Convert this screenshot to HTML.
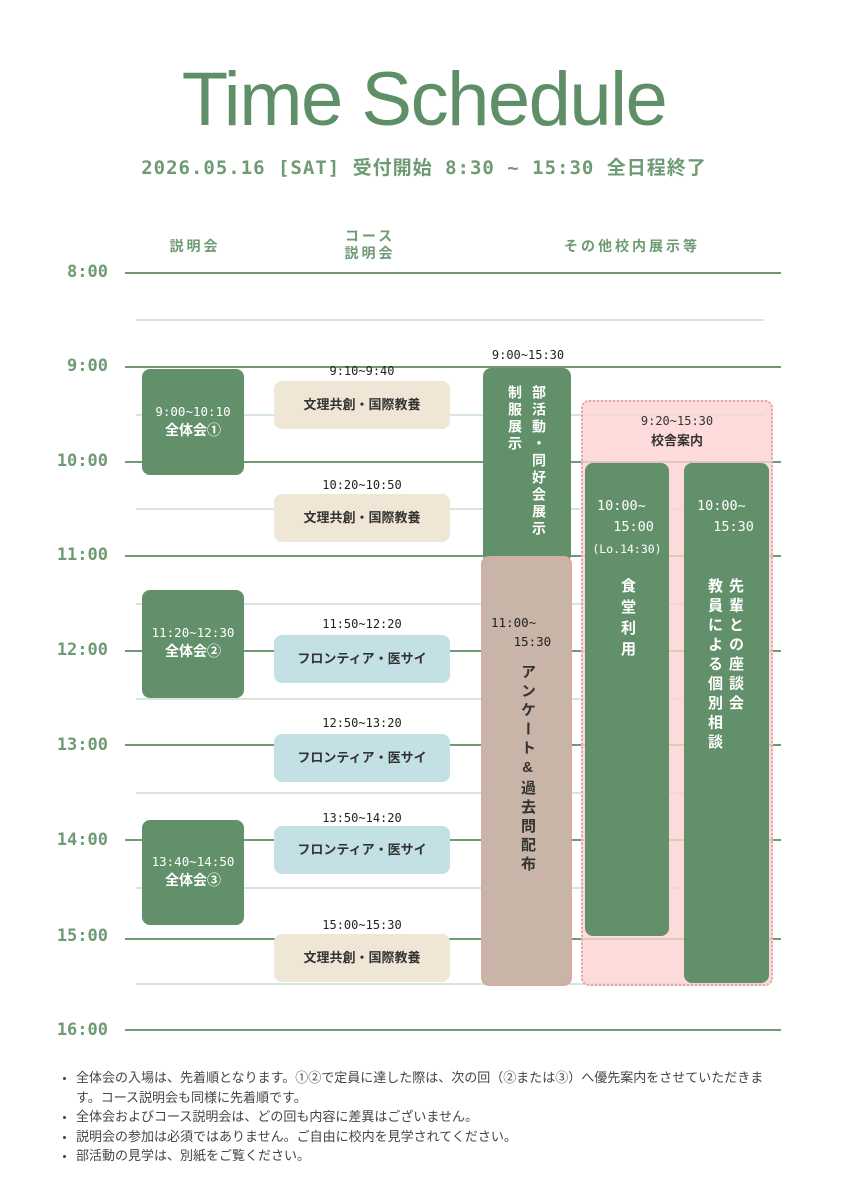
<!DOCTYPE html>
<html><head><meta charset="utf-8">
<style>
*{margin:0;padding:0;box-sizing:border-box}
body{width:848px;height:1200px;background:#fff;position:relative;overflow:hidden;font-family:"Liberation Sans","Noto Sans CJK JP",sans-serif}
.a{position:absolute}
.mono{font-family:"DejaVu Sans Mono","Liberation Mono","Noto Sans CJK JP",monospace}
.hl{position:absolute;left:125px;width:656px;height:2px;background:#6e9a74}
.ll{position:absolute;left:136px;width:628px;height:2px;background:#d6e6dc}
.tl{position:absolute;width:100px;text-align:right;left:8px;color:#6e9a74;font-weight:bold;font-size:17px;font-family:"DejaVu Sans Mono","Liberation Mono",monospace}
.gb{position:absolute;background:#62906a;border-radius:8px;color:#fff;text-align:center}
.cb{position:absolute;left:274px;width:176px;height:48px;border-radius:8px;font-size:13px;font-weight:bold;color:#333;text-align:center;line-height:48px}
.ct{position:absolute;left:274px;width:176px;text-align:center;font-size:12px;color:#222;font-family:"DejaVu Sans Mono","Liberation Mono",monospace}
.v{writing-mode:vertical-rl;text-orientation:upright;position:absolute;font-weight:bold;letter-spacing:4px}
.hd{position:absolute;color:#6e9a74;font-weight:bold;font-size:14px;letter-spacing:3px;text-align:center}
ul{position:absolute;left:62px;top:1068px;width:706px;font-size:13px;color:#444;line-height:19.5px;list-style:none}
li{position:relative;padding-left:14px}
li:before{content:"";position:absolute;left:1px;top:9px;width:3px;height:3px;background:#444;border-radius:50%}
</style></head><body>
<div class="a" style="left:0;width:848px;top:56px;text-align:center;font-size:76px;color:#5e8f66;letter-spacing:-1.5px;font-family:'Liberation Sans',sans-serif">Time Schedule</div>
<div class="a mono" style="left:0;width:848px;top:153px;text-align:center;font-size:19px;font-weight:bold;color:#6e9a74;letter-spacing:1px">2026.05.16 [SAT] 受付開始 8:30 ~ 15:30 全日程終了</div>
<div class="hd" style="left:145px;width:100px;top:236px">説明会</div>
<div class="hd" style="left:320px;width:100px;top:228px;line-height:17px">コース<br>説明会</div>
<div class="hd" style="left:532px;width:200px;top:236px">その他校内展示等</div>

<div class="ll" style="top:319px"></div><div class="ll" style="top:414px"></div><div class="ll" style="top:508px"></div><div class="ll" style="top:603px"></div><div class="ll" style="top:698px"></div><div class="ll" style="top:792px"></div><div class="ll" style="top:887px"></div><div class="ll" style="top:983px"></div>
<div class="hl" style="top:272px"></div><div class="hl" style="top:366px"></div><div class="hl" style="top:461px"></div><div class="hl" style="top:555px"></div><div class="hl" style="top:650px"></div><div class="hl" style="top:744px"></div><div class="hl" style="top:839px"></div><div class="hl" style="top:938px"></div><div class="hl" style="top:1029px"></div>

<div class="tl" style="top:262px">8:00</div><div class="tl" style="top:356px">9:00</div><div class="tl" style="top:451px">10:00</div><div class="tl" style="top:545px">11:00</div><div class="tl" style="top:640px">12:00</div><div class="tl" style="top:735px">13:00</div><div class="tl" style="top:830px">14:00</div><div class="tl" style="top:926px">15:00</div><div class="tl" style="top:1020px">16:00</div>

<div class="gb" style="left:142px;top:369px;width:102px;height:106px;padding-top:33px;font-size:14px;line-height:19px"><span class="mono" style="font-size:12.5px">9:00~10:10</span><br><b>全体会①</b></div>
<div class="gb" style="left:142px;top:590px;width:102px;height:108px;padding-top:33px;font-size:14px;line-height:19px"><span class="mono" style="font-size:12.5px">11:20~12:30</span><br><b>全体会②</b></div>
<div class="gb" style="left:142px;top:820px;width:102px;height:105px;padding-top:32px;font-size:14px;line-height:19px"><span class="mono" style="font-size:12.5px">13:40~14:50</span><br><b>全体会③</b></div>

<div class="ct" style="top:364px">9:10~9:40</div><div class="cb" style="top:381px;background:#efe6d6">文理共創・国際教養</div>
<div class="ct" style="top:478px">10:20~10:50</div><div class="cb" style="top:494px;background:#efe6d6">文理共創・国際教養</div>
<div class="ct" style="top:617px">11:50~12:20</div><div class="cb" style="top:635px;background:#c3e0e5">フロンティア・医サイ</div>
<div class="ct" style="top:716px">12:50~13:20</div><div class="cb" style="top:734px;background:#c3e0e5">フロンティア・医サイ</div>
<div class="ct" style="top:811px">13:50~14:20</div><div class="cb" style="top:826px;background:#c3e0e5">フロンティア・医サイ</div>
<div class="ct" style="top:918px">15:00~15:30</div><div class="cb" style="top:934px;background:#efe6d6">文理共創・国際教養</div>

<div class="a mono" style="left:478px;width:100px;text-align:center;top:348px;font-size:12px;color:#222">9:00~15:30</div>
<div class="gb" style="left:483px;top:368px;width:88px;height:195px"></div>
<div class="v" style="left:503px;top:385px;color:#fff;font-size:14px;line-height:24px;letter-spacing:3px">部活動・同好会展示<br>制服展示</div>

<div class="a" style="left:581px;top:400px;width:192px;height:586px;background:rgba(253,210,210,0.8);border:2px dotted #e4a2a2;border-radius:8px"></div>
<div class="a" style="left:581px;width:192px;top:411px;text-align:center;color:#333;font-size:13px;line-height:20px"><span class="mono" style="font-size:12px">9:20~15:30</span><br><b>校舎案内</b></div>

<div class="a" style="left:481px;top:556px;width:91px;height:430px;background:#c9b5a8;border:2px dotted #e4a2a2;border-radius:8px"></div>
<div class="a mono" style="left:491px;top:613px;font-size:12.5px;color:#222;line-height:19px">11:00~<br>&nbsp;&nbsp;&nbsp;15:30</div>
<div class="v" style="left:517px;top:664px;color:#333;font-size:15px;line-height:20px;letter-spacing:4px">アンケート&amp;過去問配布</div>

<div class="gb" style="left:585px;top:463px;width:84px;height:473px"></div>
<div class="a mono" style="left:597px;top:496px;color:#fff;font-size:13.5px;line-height:21px">10:00~<br>&nbsp;&nbsp;15:00</div>
<div class="a mono" style="left:585px;width:84px;text-align:center;top:542px;color:#fff;font-size:11.5px">(Lo.14:30)</div>
<div class="v" style="left:617px;top:578px;color:#fff;font-size:15px;line-height:20px;letter-spacing:6px">食堂利用</div>

<div class="gb" style="left:684px;top:463px;width:85px;height:520px"></div>
<div class="a mono" style="left:697px;top:496px;color:#fff;font-size:13.5px;line-height:21px">10:00~<br>&nbsp;&nbsp;15:30</div>
<div class="v" style="left:704px;top:578px;color:#fff;font-size:15px;line-height:21px;letter-spacing:4.5px">先輩との座談会<br>教員による個別相談</div>

<ul>
<li>全体会の入場は、先着順となります。①②で定員に達した際は、次の回（②または③）へ優先案内をさせていただきます。コース説明会も同様に先着順です。</li>
<li>全体会およびコース説明会は、どの回も内容に差異はございません。</li>
<li>説明会の参加は必須ではありません。ご自由に校内を見学されてください。</li>
<li>部活動の見学は、別紙をご覧ください。</li>
</ul>
</body></html>
